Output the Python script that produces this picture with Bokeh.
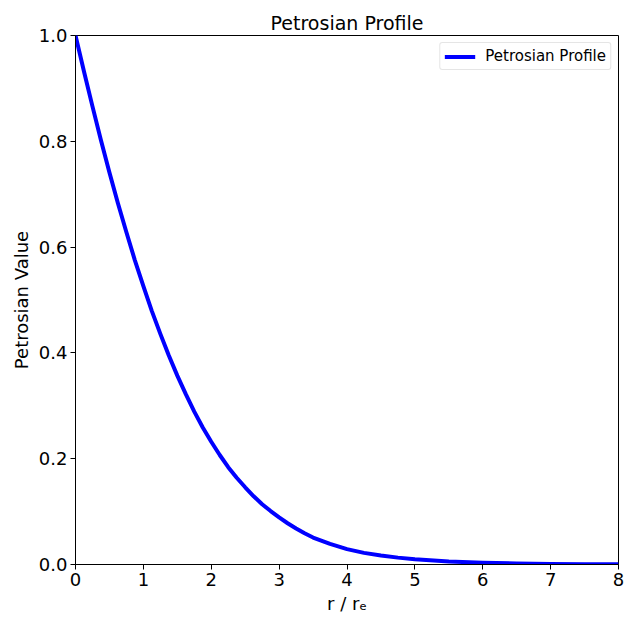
from bokeh.plotting import figure
from bokeh.models import Range1d, FixedTicker, PrintfTickFormatter, Legend, LegendItem
from bokeh.embed import file_html
from bokeh.resources import INLINE

# values
radius = [0.0, 0.125, 0.25, 0.375, 0.5, 0.625, 0.75, 0.875, 1.0, 1.125, 1.25,
          1.375, 1.5, 1.625, 1.75, 1.875, 2.0, 2.125, 2.25, 2.375, 2.5, 2.625,
          2.75, 2.875, 3.0, 3.125, 3.25, 3.375, 3.5, 3.75, 4.0, 4.25, 4.5,
          4.75, 5.0, 5.5, 6.0, 6.5, 7.0, 7.5, 8.0]
petrosian = [1.000, 0.932, 0.866, 0.802, 0.741, 0.683, 0.628, 0.575, 0.526,
             0.479, 0.436, 0.395, 0.357, 0.322, 0.289, 0.259, 0.232, 0.207,
             0.184, 0.164, 0.146, 0.129, 0.114, 0.101, 0.089, 0.078, 0.068,
             0.059, 0.051, 0.039, 0.029, 0.022, 0.017, 0.013, 0.0100, 0.0058,
             0.0034, 0.0019, 0.0011, 0.0006, 0.0003]
x_ticks = [0, 1, 2, 3, 4, 5, 6, 7, 8]
y_ticks = [0.0, 0.2, 0.4, 0.6, 0.8, 1.0]

FONT = "DejaVu Sans"

p = figure(width=629, height=620, output_backend="svg", toolbar_location=None,
           x_range=Range1d(0, 8), y_range=Range1d(0, 1),
           min_border_left=75, min_border_right=11, min_border_top=35,
           min_border_bottom=56)

p.title.text = "Petrosian Profile"
p.title.align = "center"
p.title.text_font = FONT
p.title.text_font_size = "19px"
p.title.text_font_style = "normal"
p.title.text_color = "black"
p.title.standoff = 4

r = p.line(radius, petrosian, line_color="blue", line_width=4,
           line_join="round")

p.grid.visible = False
p.outline_line_color = "black"
p.outline_line_width = 1
p.outline_line_alpha = 1

for ax in (p.xaxis[0], p.yaxis[0]):
    ax.axis_line_color = "black"
    ax.major_tick_line_color = "black"
    ax.major_tick_out = 5
    ax.major_tick_in = 0
    ax.minor_tick_out = 0
    ax.minor_tick_in = 0
    ax.major_label_text_font = FONT
    ax.major_label_text_font_size = "18px"
    ax.major_label_text_color = "black"
    ax.axis_label_text_font = FONT
    ax.axis_label_text_font_size = "18px"
    ax.axis_label_text_font_style = "normal"
    ax.axis_label_text_color = "black"
    ax.major_label_standoff = 3
    ax.axis_label_standoff = 4

p.xaxis.ticker = FixedTicker(ticks=x_ticks)
p.yaxis.ticker = FixedTicker(ticks=y_ticks)
p.yaxis.formatter = PrintfTickFormatter(format="%.1f")
p.xaxis.axis_label = "r / rₑ"
p.yaxis.axis_label = "Petrosian Value"

legend = Legend(items=[LegendItem(label="Petrosian Profile", renderers=[r])],
                location="top_right")
legend.label_text_font = FONT
legend.label_text_font_size = "15px"
legend.label_text_color = "black"
legend.border_line_color = "#cccccc"
legend.border_line_width = 1
legend.border_radius = 3
legend.glyph_width = 31
legend.glyph_height = 15
legend.label_standoff = 10
legend.padding = 4
legend.margin = 7
legend.spacing = 0
p.add_layout(legend)

open("out.html", "w").write(file_html(p, INLINE))
